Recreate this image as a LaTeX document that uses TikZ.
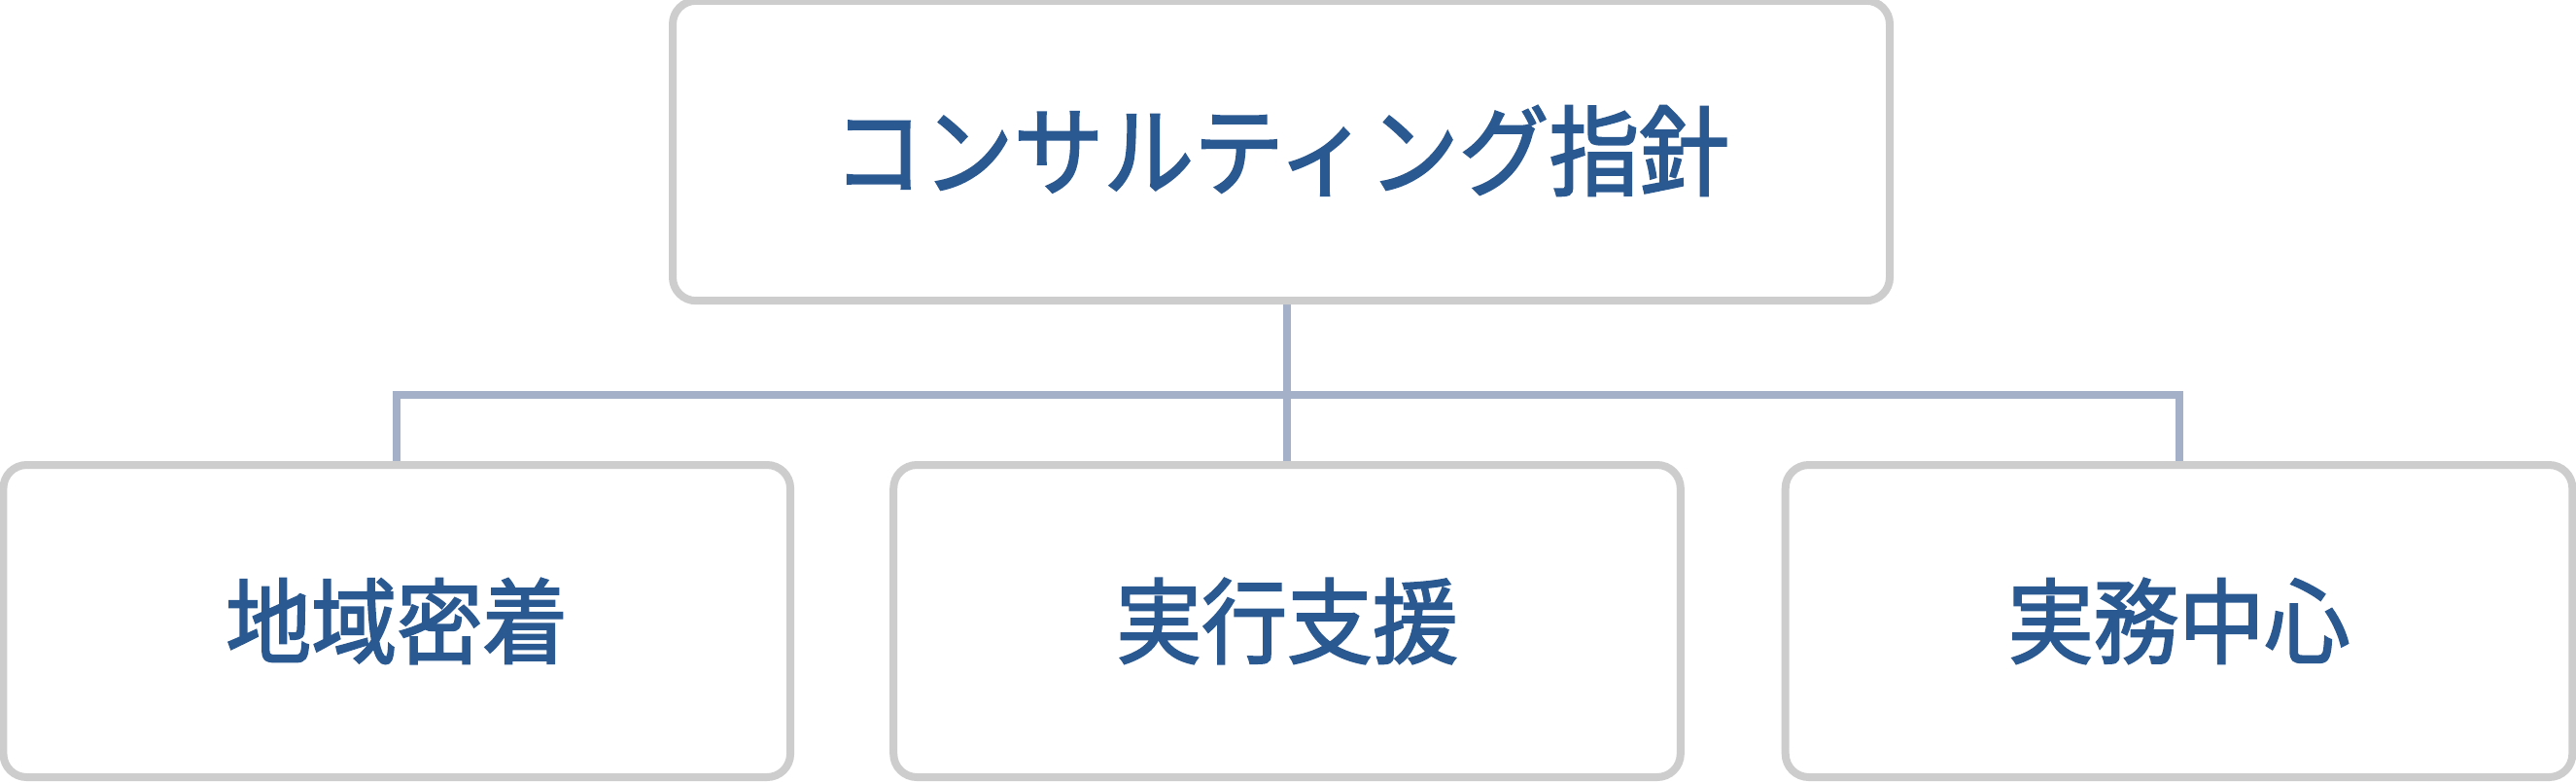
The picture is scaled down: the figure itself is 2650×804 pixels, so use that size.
\documentclass[tikz,border=0pt]{standalone}
\usepackage{fontspec}
\newfontfamily\cjk[FakeStretch=0.92,FakeBold=2]{Noto Sans CJK JP}
\usetikzlibrary{backgrounds}
\definecolor{boxgray}{HTML}{CDCDCD}
\definecolor{linkblue}{HTML}{A4B0C7}
\definecolor{textblue}{HTML}{2A5891}
\tikzset{
  box/.style={draw=boxgray, line width=2pt, fill=white, rounded corners=6pt,
    inner sep=0pt, outer sep=0pt, text=textblue},
  topbox/.style={box, minimum width=313pt, minimum height=77.1pt,
    font=\cjk\fontsize{25.2pt}{29pt}\selectfont},
  subbox/.style={box, minimum width=202.4pt, minimum height=80.25pt,
    font=\cjk\fontsize{23.9pt}{28pt}\selectfont},
  link/.style={draw=linkblue, line width=2pt, line join=miter}
}
\begin{document}
\begin{tikzpicture}[x=0.25pt, y=-0.25pt]
\useasboundingbox (0,0) rectangle (2650,804);
\node[topbox] (top) at (1318,155) {コンサルティング指針};
\node[subbox] (l) at (408.25,638.5) {地域密着};
\node[subbox] (m) at (1324,638.5) {実行支援};
\node[subbox] (r) at (2241.5,638.5) {実務中心};
\coordinate (bus) at (1325,406);
\begin{scope}[on background layer]
\draw[link] (top.south -| m.north) -- (m.north);
\draw[link] (l.north) -- (l.north |- bus) -- (r.north |- bus) -- (r.north);
\end{scope}
\end{tikzpicture}
\end{document}
